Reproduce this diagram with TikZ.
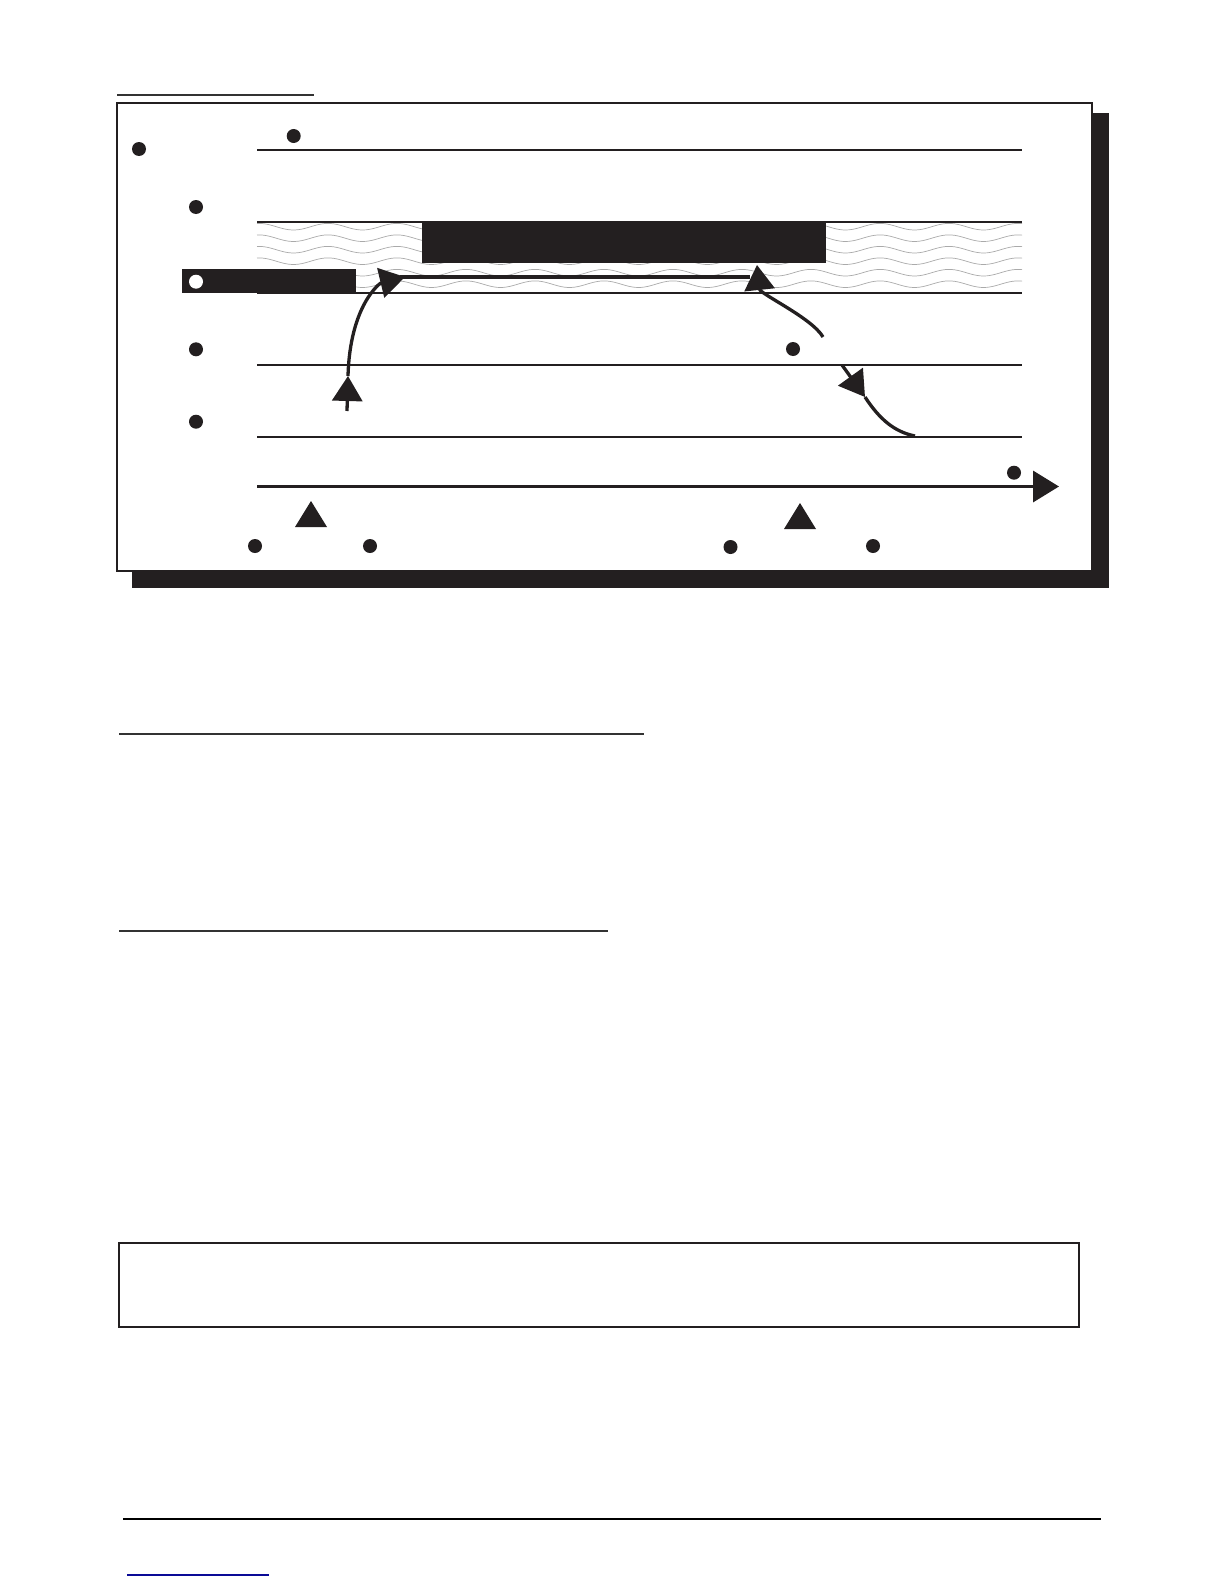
\documentclass[tikz,border=0pt]{standalone}
\usetikzlibrary{arrows.meta}
\definecolor{ink}{RGB}{35,31,32}
\definecolor{wavegray}{RGB}{170,170,170}
\definecolor{rulegray}{RGB}{50,50,50}
\definecolor{linkblue}{RGB}{10,10,150}
\begin{document}
\begin{tikzpicture}[x=1pt,y=-1pt,
  guide/.style={draw=ink,line width=2pt},
  wave/.style={draw=wavegray,line width=0.7pt},
  dotmark/.style={circle,fill=ink,inner sep=0pt,minimum size=14pt},
  hollowdot/.style={circle,fill=white,inner sep=0pt,minimum size=14pt},
  flow/.style={draw=ink,line width=3.3pt},
  tipA/.style={-{Triangle[length=25pt,width=30pt]}},
  marker/.style={fill=ink},
  rulel/.style={draw=rulegray,line width=2pt}]
\useasboundingbox (0,0) rectangle (1224,1584);
\fill[white] (0,0) rectangle (1224,1584);

% heading underline
\draw[rulel] (117,94.7) -- (314,94.7);

% frame with shadow
\fill[ink] (132,113) rectangle (1109,588);
\filldraw[fill=white,draw=ink,line width=2pt] (117,103) rectangle (1092,571);

% wavy band
\foreach \yy in {226.7,238.2,249.7,261.2,272.7,284.2}{
  \draw[wave] plot[domain=257:1022,samples=240] (\x,{\yy-3.3*cos(5.2174*(\x-880))});
}

% guide lines
\draw[guide] (257,150) -- (1022,150);
\draw[guide] (257,221.7) -- (1022,221.7);
\draw[guide] (257,292.7) -- (1022,292.7);
\draw[guide] (257,365) -- (1022,365);
\draw[guide] (257,436.7) -- (1022,436.7);

% black bars
\fill[ink] (422,221) rectangle (826,263);
\fill[ink] (182,269) rectangle (356,293);

% dots
\node[dotmark] (d1) at (139,149) {};
\node[dotmark] (d2) at (293.7,136) {};
\node[dotmark] (d3) at (196,207) {};
\node[hollowdot] (d4) at (196,281.7) {};
\node[dotmark] (d5) at (196,349.3) {};
\node[dotmark] (d6) at (196,421.7) {};
\node[dotmark] (d7) at (793,349) {};
\node[dotmark] (d8) at (1014,472.7) {};
\node[dotmark] (d9) at (255,546) {};
\node[dotmark] (d10) at (370,546) {};
\node[dotmark] (d11) at (730.5,547) {};
\node[dotmark] (d12) at (873,546) {};

% time axis
\coordinate (ax0) at (257,486.5);
\coordinate (ax1) at (1059,486.5);
\draw[draw=ink,line width=3.5pt,-{Triangle[length=26pt,width=31pt]}] (ax0) -- (ax1);

% triangle markers
\fill[marker] (295,527) -- (311,501) -- (327,527) -- cycle;
\fill[marker] (784,529) -- (800,503) -- (816,529) -- cycle;

% flow curve 1
\coordinate (c1a) at (347,411);
\coordinate (c1b) at (348,376);
\coordinate (c1t) at (405,277);
\draw[flow,tipA] (c1a) -- (c1b);
\draw[flow,tipA] (c1b) .. controls (350,305) and (380,283) .. (c1t);

% horizontal flow
\coordinate (h0) at (400,277);
\coordinate (h1) at (750,277);
\draw[flow] (h0) -- (h1);

% flow curve 2
\coordinate (c2a) at (823,337);
\coordinate (c2t) at (757,265);
\draw[flow,tipA] (c2a) .. controls (812,318) and (760,294) .. (c2t);

% flow curve 3
\coordinate (c3a) at (842,365);
\coordinate (c3m) at (865,397);
\coordinate (c3b) at (915,436);
\draw[flow,tipA] (c3a) -- (c3m);
\draw[flow] (c3m) .. controls (880,420) and (895,432) .. (c3b);

% mid-page rules
\draw[rulel] (119,733.7) -- (643.5,733.7);
\draw[rulel] (119,931.3) -- (608,931.3);

% empty box
\draw[draw=ink,line width=2pt] (119,1243) rectangle (1079,1327);

% footer rule
\draw[draw=black,line width=2.5pt] (123,1519) -- (1101,1519);
\draw[draw=linkblue,line width=1.5pt] (127,1575) -- (269,1575);
\end{tikzpicture}
\end{document}
